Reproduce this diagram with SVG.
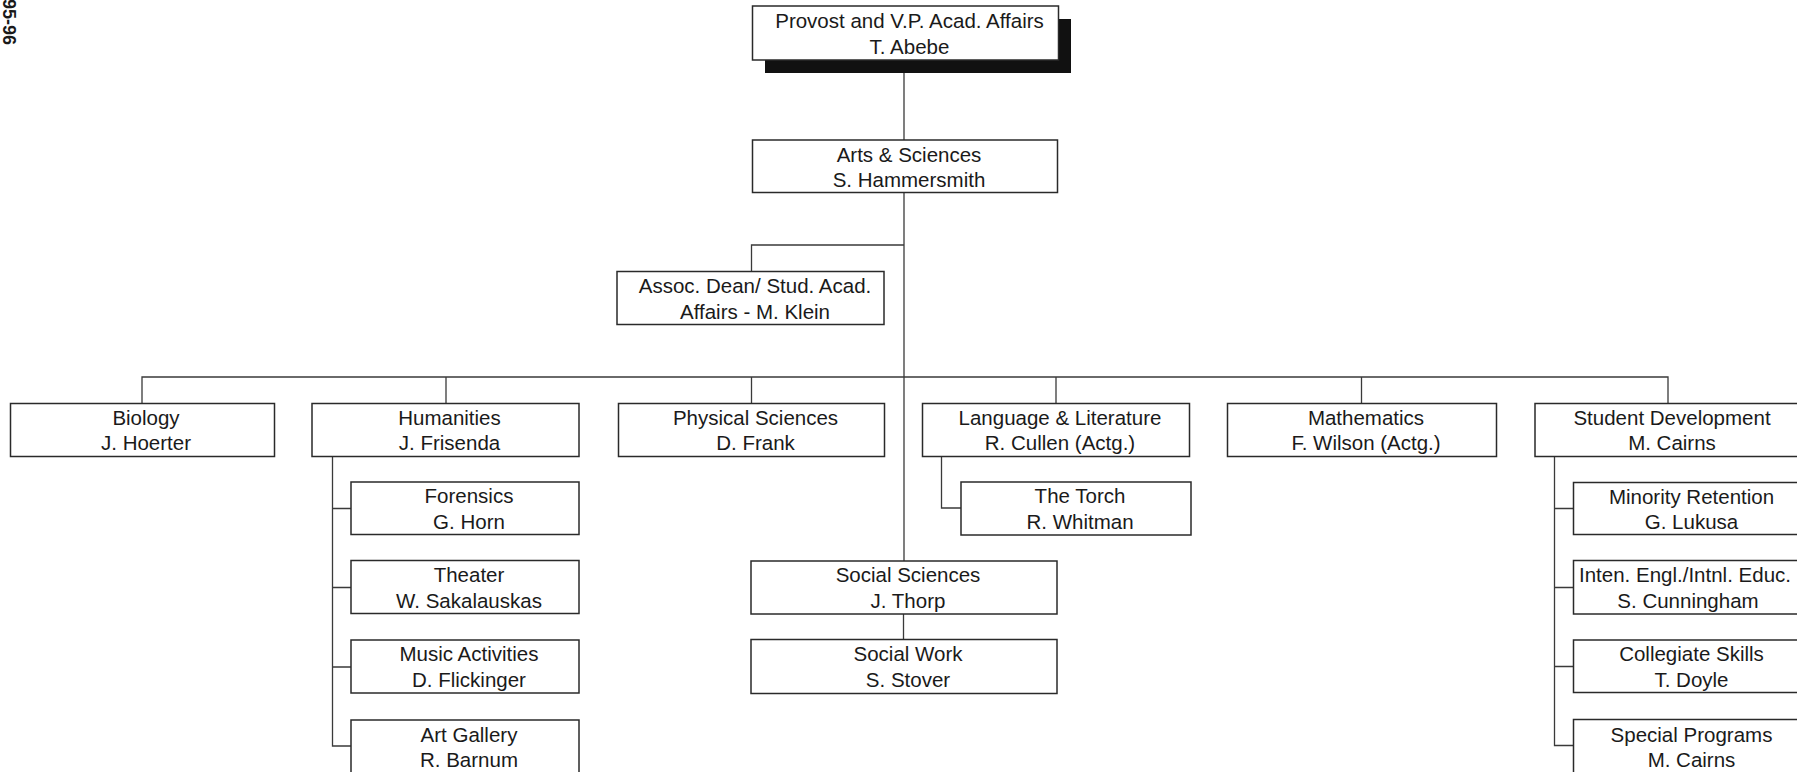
<svg xmlns="http://www.w3.org/2000/svg" width="1797" height="772" viewBox="0 0 1797 772">
<style>
  .box { fill: #ffffff; stroke: #2a2a2a; stroke-width: 1.5; }
  .shadow { fill: #111111; stroke: none; }
  .conn { fill: none; stroke: #3a3a3a; stroke-width: 1.3; }
  text { font-family: "Liberation Sans", Arial, sans-serif; font-size: 20.5px; fill: #1a1a1a; text-anchor: middle; }
  .side { font-size: 18px; font-weight: bold; text-anchor: start; }
</style>
<rect x="0" y="0" width="1797" height="772" fill="#ffffff"/>
<text class="side" transform="translate(3,-1) rotate(90)">95-96</text>

<g id="connectors">
  <path class="conn" d="M904 60 V561"/>
  <path class="conn" d="M904 245 H751.5 V271.5"/>
  <path class="conn" d="M142 403.5 V377 H1668 V403.5"/>
  <path class="conn" d="M446 377 V403.5"/>
  <path class="conn" d="M751.5 377 V403.5"/>
  <path class="conn" d="M1056 377 V403.5"/>
  <path class="conn" d="M1361.5 377 V403.5"/>
  <path class="conn" d="M332.5 456 V746 H351 M332.5 508.5 H351 M332.5 587.5 H351 M332.5 667 H351"/>
  <path class="conn" d="M941.5 456.5 V508 H961"/>
  <path class="conn" d="M903.5 614 V639.5"/>
  <path class="conn" d="M1554.5 456 V745.5 H1573.5 M1554.5 508.5 H1573.5 M1554.5 587.5 H1573.5 M1554.5 666.5 H1573.5"/>
</g>

<g id="provost">
  <rect class="shadow" x="765" y="19" width="306" height="54"/>
  <rect class="box" x="752.5" y="6" width="306" height="54"/>
  <text x="909.5" y="27.5">Provost and V.P. Acad. Affairs</text>
  <text x="909.5" y="53.5">T. Abebe</text>
</g>
<g id="arts-sciences">
  <rect class="box" x="752.5" y="140" width="305" height="52.5"/>
  <text x="909" y="161.5">Arts &amp; Sciences</text>
  <text x="909" y="186.5">S. Hammersmith</text>
</g>
<g id="assoc-dean">
  <rect class="box" x="617" y="271.5" width="267" height="53"/>
  <text x="755" y="292.5">Assoc. Dean/ Stud. Acad.</text>
  <text x="755" y="318.5">Affairs - M. Klein</text>
</g>

<g id="biology">
  <rect class="box" x="10.5" y="403.5" width="264" height="53"/>
  <text x="146" y="424.5">Biology</text>
  <text x="146" y="450">J. Hoerter</text>
</g>
<g id="humanities">
  <rect class="box" x="312" y="403.5" width="267" height="53"/>
  <text x="449.5" y="424.5">Humanities</text>
  <text x="449.5" y="450">J. Frisenda</text>
</g>
<g id="physical-sciences">
  <rect class="box" x="618.5" y="403.5" width="266" height="53"/>
  <text x="755.5" y="424.5">Physical Sciences</text>
  <text x="755.5" y="450">D. Frank</text>
</g>
<g id="language-literature">
  <rect class="box" x="922.5" y="403.5" width="267" height="53"/>
  <text x="1060" y="424.5">Language &amp; Literature</text>
  <text x="1060" y="450">R. Cullen (Actg.)</text>
</g>
<g id="mathematics">
  <rect class="box" x="1227.5" y="403.5" width="269" height="53"/>
  <text x="1366" y="424.5">Mathematics</text>
  <text x="1366" y="450">F. Wilson (Actg.)</text>
</g>
<g id="student-development">
  <rect class="box" x="1535" y="403.5" width="266" height="53"/>
  <text x="1672" y="424.5">Student Development</text>
  <text x="1672" y="450">M. Cairns</text>
</g>

<g id="forensics">
  <rect class="box" x="351" y="482" width="228" height="52.5"/>
  <text x="469" y="503">Forensics</text>
  <text x="469" y="529">G. Horn</text>
</g>
<g id="theater">
  <rect class="box" x="351" y="560.5" width="228" height="53"/>
  <text x="469" y="581.5">Theater</text>
  <text x="469" y="607.5">W. Sakalauskas</text>
</g>
<g id="music-activities">
  <rect class="box" x="351" y="640" width="228" height="53"/>
  <text x="469" y="661">Music Activities</text>
  <text x="469" y="687">D. Flickinger</text>
</g>
<g id="art-gallery">
  <rect class="box" x="351" y="720" width="228" height="54"/>
  <text x="469" y="742">Art Gallery</text>
  <text x="469" y="767">R. Barnum</text>
</g>

<g id="the-torch">
  <rect class="box" x="961" y="482" width="230" height="53"/>
  <text x="1080" y="503">The Torch</text>
  <text x="1080" y="529">R. Whitman</text>
</g>

<g id="social-sciences">
  <rect class="box" x="751" y="561" width="306" height="53"/>
  <text x="908" y="582">Social Sciences</text>
  <text x="908" y="608">J. Thorp</text>
</g>
<g id="social-work">
  <rect class="box" x="751" y="639.5" width="306" height="54"/>
  <text x="908" y="660.5">Social Work</text>
  <text x="908" y="686.5">S. Stover</text>
</g>

<g id="minority-retention">
  <rect class="box" x="1573.5" y="482.5" width="229" height="52"/>
  <text x="1691.5" y="503.5">Minority Retention</text>
  <text x="1691.5" y="529">G. Lukusa</text>
</g>
<g id="inten-engl">
  <rect class="box" x="1573.5" y="560.5" width="229" height="53.5"/>
  <text x="1685" y="581.5">Inten. Engl./Intnl. Educ.</text>
  <text x="1688" y="607.5">S. Cunningham</text>
</g>
<g id="collegiate-skills">
  <rect class="box" x="1573.5" y="640" width="229" height="52.5"/>
  <text x="1691.5" y="661">Collegiate Skills</text>
  <text x="1691.5" y="686.5">T. Doyle</text>
</g>
<g id="special-programs">
  <rect class="box" x="1573.5" y="719.5" width="229" height="54"/>
  <text x="1691.5" y="741.5">Special Programs</text>
  <text x="1691.5" y="766.5">M. Cairns</text>
</g>
</svg>
